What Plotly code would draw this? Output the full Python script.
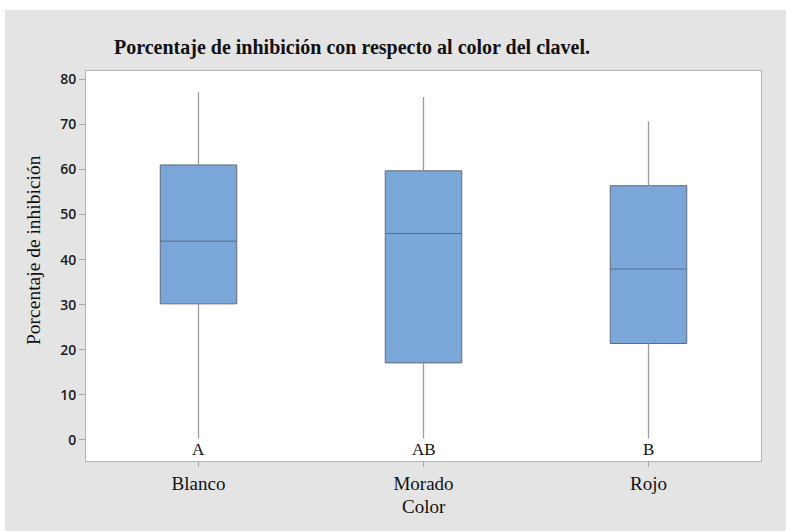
import plotly.graph_objects as go

# Box summaries of inhibition percentage by carnation colour
colores = ["Blanco", "Morado", "Rojo"]
minimo = [0.0, 0.0, 0.0]
q1 = [30.2, 17.1, 21.4]
mediana = [44.1, 45.8, 37.9]
q3 = [61.0, 59.7, 56.4]
maximo = [77.1, 76.0, 70.6]
letras = ["A", "AB", "B"]
letra_y = [-2.0, -2.0, -2.0]

W, H = 786, 531
ML, MR, MT, MB = 86, 25, 71, 70
pw, ph = W - ML - MR, H - MT - MB


def px_x(p):
    return (p - ML) / pw


def px_y(p):
    return (H - MB - p) / ph


GRAY = "#e4e4e4"
SERIF = "Liberation Serif"

fig = go.Figure()

fig.add_trace(go.Box(
    x=colores,
    q1=q1, median=mediana, q3=q3,
    lowerfence=minimo, upperfence=maximo,
    fillcolor="#7ba6d8",
    line=dict(color="#5f6b7d", width=1),
    whiskerwidth=0,
    width=0.34,
    boxpoints=False,
    hoverinfo="skip",
    showlegend=False,
))

# Whiskers redrawn in a lighter grey over the box trace
wx, wy = [], []
for c, lo, a, b, hi in zip(colores, minimo, q1, q3, maximo):
    wx += [c, c, None, c, c, None]
    wy += [lo, a, None, b, hi, None]
fig.add_trace(go.Scatter(
    x=wx, y=wy, mode="lines",
    line=dict(color="#9c9c9c", width=1.3),
    hoverinfo="skip", showlegend=False,
))

# Grouping letters under each box
for c, l, yv in zip(colores, letras, letra_y):
    fig.add_annotation(x=c, y=yv, text=l, showarrow=False,
                       font=dict(family=SERIF, size=17, color="#111"),
                       xanchor="center", yanchor="middle",
                       bgcolor="white")

# Title and axis titles
fig.add_annotation(xref="paper", yref="paper", x=px_x(352), y=px_y(47),
                   text="<b>Porcentaje de inhibición con respecto al color del clavel.</b>",
                   showarrow=False, xanchor="center", yanchor="middle",
                   font=dict(family=SERIF, size=20, color="#111"))
fig.add_annotation(xref="paper", yref="paper", x=px_x(33), y=px_y(250),
                   text="Porcentaje de inhibición", textangle=-90,
                   showarrow=False, xanchor="center", yanchor="middle",
                   font=dict(family=SERIF, size=19.5, color="#111"))
fig.add_annotation(xref="paper", yref="paper", x=px_x(424), y=px_y(506),
                   text="Color", showarrow=False, xanchor="center", yanchor="middle",
                   font=dict(family=SERIF, size=19, color="#111"))

# White strips along the top and left edges of the page
fig.add_shape(type="rect", xref="paper", yref="paper",
              x0=px_x(0), x1=px_x(W), y0=px_y(10), y1=px_y(0),
              fillcolor="white", line=dict(width=0), layer="above")
fig.add_shape(type="rect", xref="paper", yref="paper",
              x0=px_x(0), x1=px_x(5), y0=px_y(H), y1=px_y(0),
              fillcolor="white", line=dict(width=0), layer="above")

fig.update_layout(
    width=W, height=H,
    margin=dict(l=ML, r=MR, t=MT, b=MB),
    paper_bgcolor=GRAY,
    plot_bgcolor="white",
    xaxis=dict(
        type="category", range=[-0.5, 2.5],
        showline=True, mirror=True, linecolor="#b4b4b4", linewidth=1,
        ticks="outside", ticklen=5, tickcolor="#a8a8a8",
        showgrid=False, zeroline=False,
        tickfont=dict(family=SERIF, size=19, color="#111"),
    ),
    yaxis=dict(
        range=[-4.66, 81.84],
        tickvals=[0, 10, 20, 30, 40, 50, 60, 70, 80],
        showline=True, mirror=True, linecolor="#b4b4b4", linewidth=1,
        ticks="outside", ticklen=6, tickcolor="#a8a8a8",
        showgrid=False, zeroline=False,
        tickfont=dict(family="Open Sans", size=14, color="#1a1a1a", weight=600),
    ),
)

fig.write_html("out.html")
